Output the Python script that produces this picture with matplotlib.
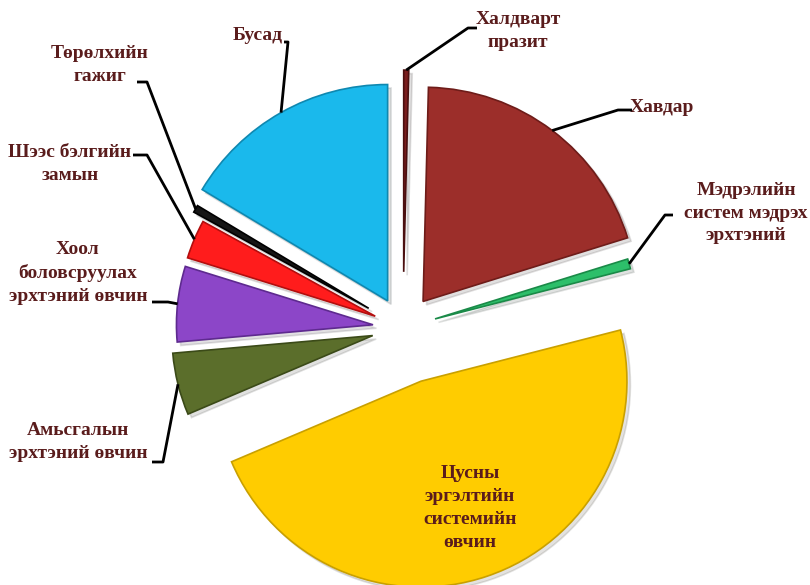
import numpy as np
import matplotlib
matplotlib.use('Agg')
import matplotlib.pyplot as plt
from matplotlib.patches import Shadow

# data (share of deaths by cause, %), clockwise from the top
labels = ['Халдварт\nпразит', 'Хавдар', 'Мэдрэлийн\nсистем мэдрэх\nэрхтэний',
          'Цусны\nэргэлтийн\nсистемийн\nөвчин', 'Амьсгалын\nэрхтэний өвчин',
          'Хоол\nболовсруулах\nэрхтэний өвчин', 'Шээс бэлгийн\nзамын',
          'Төрөлхийн\nгажиг', 'Бусад']
values = [0.4, 19.8, 0.8, 47.6, 5.0, 6.2, 3.2, 0.6, 16.4]

colors = ['#7a1d1d', '#9c2e2a', '#2dbf6a', '#ffcc00', '#5b6e2b',
          '#8c46c8', '#ff1c1c', '#151515', '#1ab9ec']
edges = ['#4a0f0f', '#6e1c19', '#1a8a48', '#c9a000', '#3b4a18',
         '#5e2a8f', '#b30e0e', '#000000', '#0f88b0']
explode = [0.27, 0.16, 0.16, 0.27, 0.15, 0.145, 0.145, 0.19, 0.15]
# the original is a tilted 3-D pie: the upper wedges look a bit larger
radius_scale = [0.97, 1.03, 0.97, 0.99, 0.965, 0.945, 0.945, 0.96, 1.04]

W, H = 810, 585
R = 208
def P(x, y):
    # pixel position (top-left origin) -> axes data coords
    return x, H - y

# label layout: text centre, elbow of leader line, end of the short stub
layout = [
    ((518, 31), (468, 28), (477, 28)),
    ((662, 107), (618, 110), (632, 110)),
    ((746, 213), (665, 215), (673, 215)),
    ((470, 508), None, None),
    ((78, 442), (163, 462), (152, 462)),
    ((78, 273), (168, 302), (152, 302)),
    ((70, 164), (147, 155), (133, 155)),
    ((100, 65), (147, 82), (137, 82)),
    ((258, 35), (288, 42), (284, 42)),
]

fig = plt.figure(figsize=(W / 100, H / 100), dpi=100)
ax = fig.add_axes([0, 0, 1, 1])

wedges, _ = ax.pie(values, colors=colors, explode=[e * R for e in explode],
                   startangle=90, counterclock=False, radius=R,
                   center=P(403, 328), wedgeprops=dict(linewidth=1.2),
                   frame=True)
for w, ec, k in zip(wedges, edges, radius_scale):
    w.set_edgecolor(ec)
    w.set_radius(R * k)
    # soft drop shadow, like the original
    sh = Shadow(w, 2.5, -2.5, shade=0.9, alpha=0.12)
    sh.set_zorder(w.get_zorder() - 0.1)
    ax.add_patch(sh)

ax.set_xlim(0, W)
ax.set_ylim(0, H)
ax.set_aspect('equal')
ax.axis('off')

font = dict(family=['Liberation Serif', 'DejaVu Serif'], fontweight='bold',
            fontsize=14, color='#5a1c1c', linespacing=1.45)

for w, lab, (txt, elbow, stub) in zip(wedges, labels, layout):
    ax.text(*P(*txt), lab, ha='center', va='center', **font)
    if elbow is None:
        continue
    mid = np.deg2rad((w.theta1 + w.theta2) / 2)
    cx, cy = w.center
    ax_ = cx + w.r * np.cos(mid)
    ay_ = cy + w.r * np.sin(mid)
    ex, ey = P(*elbow)
    sx, sy = P(*stub)
    ax.plot([ax_, ex, sx], [ay_, ey, sy], color='black', lw=2,
            solid_capstyle='butt', zorder=5)

fig.savefig('out.png', dpi=100)
